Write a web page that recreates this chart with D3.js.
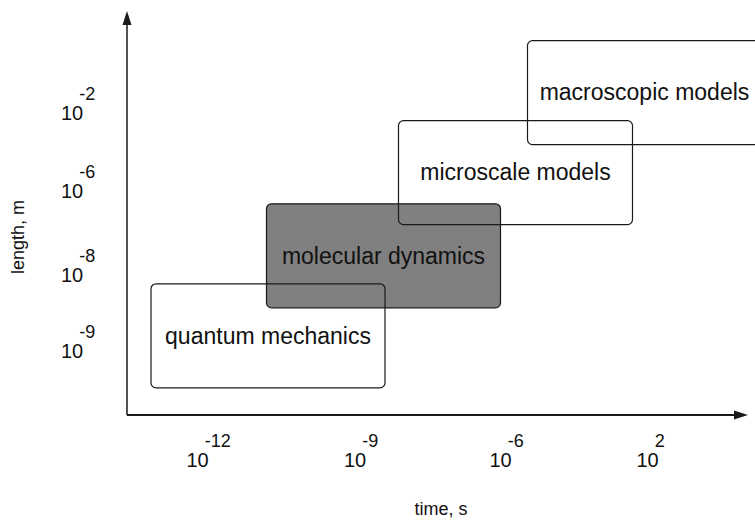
<!DOCTYPE html>
<html>
<head>
<meta charset="utf-8">
<script src="https://cdn.jsdelivr.net/npm/d3@7"></script>
<style>
  html, body { margin: 0; padding: 0; background: #fff; }
  svg { display: block; font-family: "Liberation Sans", Arial, Helvetica, sans-serif; }
</style>
</head>
<body>
<svg id="chart" width="755" height="521"></svg>
<script>
// Modelling regimes laid out on schematic time (x) / length (y) axes.
// Units are "decade steps" along each axis (schematic, not to true log scale).
const regimes  = ["quantum mechanics", "molecular dynamics", "microscale models", "macroscopic models"];
const timeFrom = [0.16, 0.93, 1.81, 2.67];
const timeTo   = [1.72, 2.49, 3.37, 4.23];
const lenFrom  = [0.34, 1.34, 2.38, 3.38];
const lenTo    = [1.64, 2.64, 3.68, 4.68];
const shaded   = [false, true, false, false];

// Tick labels: base 10 with exponent, placed at schematic positions
const xTickExp = ["-12", "-9", "-6", "2"];
const xTickPos = [0.47, 1.52, 2.49, 3.47];
const yTickExp = ["-2", "-6", "-8", "-9"];
const yTickPos = [3.78, 2.81, 1.76, 0.81];

const xTitle = "time, s";
const yTitle = "length, m";

const svg = d3.select("#chart");
const ink = "#1a1a1a";

const x = d3.scaleLinear().domain([0, 4.14]).range([127, 748]);
const y = d3.scaleLinear().domain([0, 5.05]).range([415, 11]);

const boxes = regimes.map((name, i) => ({
  name, x0: timeFrom[i], x1: timeTo[i], y0: lenFrom[i], y1: lenTo[i], shaded: shaded[i]
}));

// Shaded regime first so the outlined boxes stay visible on top of it
const order = boxes.slice().sort((a, b) => (b.shaded ? 1 : 0) - (a.shaded ? 1 : 0));

const g = svg.append("g");
g.selectAll("rect.regime")
  .data(order)
  .join("rect")
  .attr("class", "regime")
  .attr("x", d => x(d.x0))
  .attr("y", d => y(d.y1))
  .attr("width", d => x(d.x1) - x(d.x0))
  .attr("height", d => y(d.y0) - y(d.y1))
  .attr("rx", 5).attr("ry", 5)
  .attr("fill", d => d.shaded ? "#808080" : "none")
  .attr("stroke", ink)
  .attr("stroke-width", 1.2);

g.selectAll("text.regime-label")
  .data(boxes)
  .join("text")
  .attr("class", "regime-label")
  .attr("x", d => x((d.x0 + d.x1) / 2))
  .attr("y", d => y((d.y0 + d.y1) / 2))
  .attr("dy", "0.34em")
  .attr("text-anchor", "middle")
  .attr("font-size", 23)
  .attr("fill", "#111")
  .text(d => d.name);

// Axes with arrowheads
const [xMin, xMax] = x.range();
const [yBot, yTop] = y.range();
const axes = svg.append("g");
axes.append("line")
  .attr("x1", xMin).attr("y1", yBot).attr("x2", xMin).attr("y2", yTop + 12)
  .attr("stroke", ink).attr("stroke-width", 1.5);
axes.append("line")
  .attr("x1", xMin).attr("y1", yBot).attr("x2", xMax - 12).attr("y2", yBot)
  .attr("stroke", ink).attr("stroke-width", 2);
axes.append("path")
  .attr("d", `M${xMin},${yTop} L${xMin - 4.5},${yTop + 14} L${xMin + 4.5},${yTop + 14} Z`)
  .attr("fill", ink);
axes.append("path")
  .attr("d", `M${xMax},${yBot} L${xMax - 14},${yBot - 4.5} L${xMax - 14},${yBot + 4.5} Z`)
  .attr("fill", ink);

// Power-of-ten tick label helper
function powerLabel(sel) {
  sel.append("tspan").attr("font-size", 20).text("10");
  sel.append("tspan")
    .attr("font-size", 18)
    .attr("dx", -4).attr("dy", -20)
    .text(d => d.exp);
}

svg.append("g").selectAll("text")
  .data(xTickExp.map((exp, i) => ({ exp, pos: xTickPos[i] })))
  .join("text")
  .attr("x", d => x(d.pos) - 11)
  .attr("y", yBot + 52)
  .attr("fill", "#111")
  .call(powerLabel);

svg.append("g").selectAll("text")
  .data(yTickExp.map((exp, i) => ({ exp, pos: yTickPos[i] })))
  .join("text")
  .attr("x", xMin - 66)
  .attr("y", d => y(d.pos) + 7.5)
  .attr("fill", "#111")
  .call(powerLabel);

// Axis titles
svg.append("text")
  .attr("x", 441).attr("y", 515)
  .attr("text-anchor", "middle")
  .attr("font-size", 18)
  .attr("fill", "#111")
  .text(xTitle);

svg.append("text")
  .attr("transform", "translate(24,237) rotate(-90)")
  .attr("text-anchor", "middle")
  .attr("font-size", 18)
  .attr("fill", "#111")
  .text(yTitle);
</script>
</body>
</html>
